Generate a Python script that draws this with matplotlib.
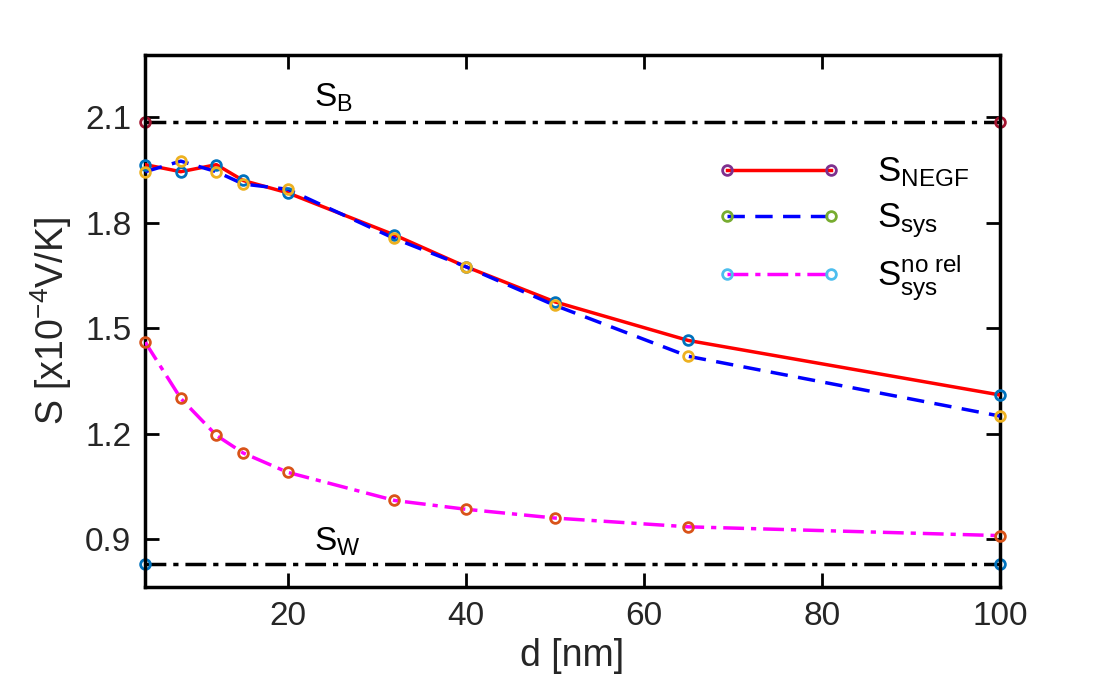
import matplotlib
matplotlib.use("Agg")
import matplotlib.pyplot as plt
from matplotlib.lines import Line2D

plt.rcParams['font.family'] = ['Liberation Sans', 'DejaVu Sans']
plt.rcParams['mathtext.fontset'] = 'custom'
plt.rcParams['mathtext.rm'] = 'Liberation Sans'
plt.rcParams['mathtext.it'] = 'Liberation Sans'

d = [4, 8, 12, 15, 20, 32, 40, 50, 65, 100]
s_negf = [1.965, 1.945, 1.965, 1.92, 1.885, 1.765, 1.675, 1.575, 1.465, 1.31]
s_sys = [1.945, 1.975, 1.945, 1.91, 1.895, 1.755, 1.675, 1.565, 1.42, 1.25]
s_norel = [1.46, 1.30, 1.195, 1.145, 1.09, 1.01, 0.985, 0.96, 0.935, 0.91]
s_b = 2.085
s_w = 0.83
d_lim = [4, 100]

fig = plt.figure(figsize=(11, 7), dpi=100)
ax = fig.add_axes([0.132, 0.161, 0.777, 0.76])

mk = dict(marker='o', markersize=7, markerfacecolor='none', markeredgewidth=2)
dashdot = (0, (6, 2, 1.5, 2))
ax.plot(d_lim, [s_b, s_b], color='black', linestyle=dashdot, linewidth=2.5, zorder=2)
ax.plot(d_lim, [s_b, s_b], linestyle='none', markeredgecolor='#a2142f', clip_on=False, **mk)
ax.plot(d_lim, [s_w, s_w], color='black', linestyle=dashdot, linewidth=2.5, zorder=2)
ax.plot(d_lim, [s_w, s_w], linestyle='none', markeredgecolor='#0072bd', clip_on=False, **mk)

ax.plot(d, s_negf, color='red', linewidth=2.5, zorder=3)
ax.plot(d, s_negf, linestyle='none', markeredgecolor='#0072bd', clip_on=False, zorder=4, **mk)
ax.plot(d, s_sys, color='blue', linestyle=(0, (5, 3)), linewidth=2.5, zorder=3)
ax.plot(d, s_sys, linestyle='none', markeredgecolor='#edb120', clip_on=False, zorder=4, **mk)
ax.plot(d, s_norel, color='magenta', linestyle=dashdot, linewidth=2.5, zorder=3)
ax.plot(d, s_norel, linestyle='none', markeredgecolor='#d95319', clip_on=False, zorder=4, **mk)

ax.text(23, 2.13, r'S$_\mathregular{B}$', fontsize=24)
ax.text(23, 0.868, r'S$_\mathregular{W}$', fontsize=24)

handles = [
    Line2D([], [], color='red', linewidth=2.5, markeredgecolor='#7e2f8e', **mk),
    Line2D([], [], color='blue', linestyle=(0, (5, 3)), linewidth=2.5, markeredgecolor='#77ac30', **mk),
    Line2D([], [], color='magenta', linestyle=dashdot, linewidth=2.5, markeredgecolor='#4dbeee', **mk),
]
labels = [r'S$_\mathregular{NEGF}$', r'S$_\mathregular{sys}$', r'S$^\mathregular{no\ rel}_\mathregular{sys}$']
ax.legend(handles, labels, loc='upper right', bbox_to_anchor=(1.0, 0.87), frameon=False,
          fontsize=25, numpoints=2, handlelength=3.6, labelspacing=0.35, handletextpad=1.0)

ax.set_xlim(d_lim)
ax.set_ylim(0.763, 2.276)
ax.set_xticks([20, 40, 60, 80, 100])
ax.set_yticks([0.9, 1.2, 1.5, 1.8, 2.1])
ax.set_yticklabels(['0.9', '1.2', '1.5', '1.8', '2.1'])
ax.tick_params(direction='in', length=10, width=2, labelsize=24, labelcolor='#262626',
               top=True, right=True, pad=10)
for sp in ax.spines.values():
    sp.set_linewidth(2.5)
ax.set_xlabel('d [nm]', fontsize=27, color='#262626', labelpad=4)
ax.set_ylabel(r'S [x10$^\mathregular{-4}$V/K]', fontsize=27, color='#262626', labelpad=8)

fig.savefig('out.png')
